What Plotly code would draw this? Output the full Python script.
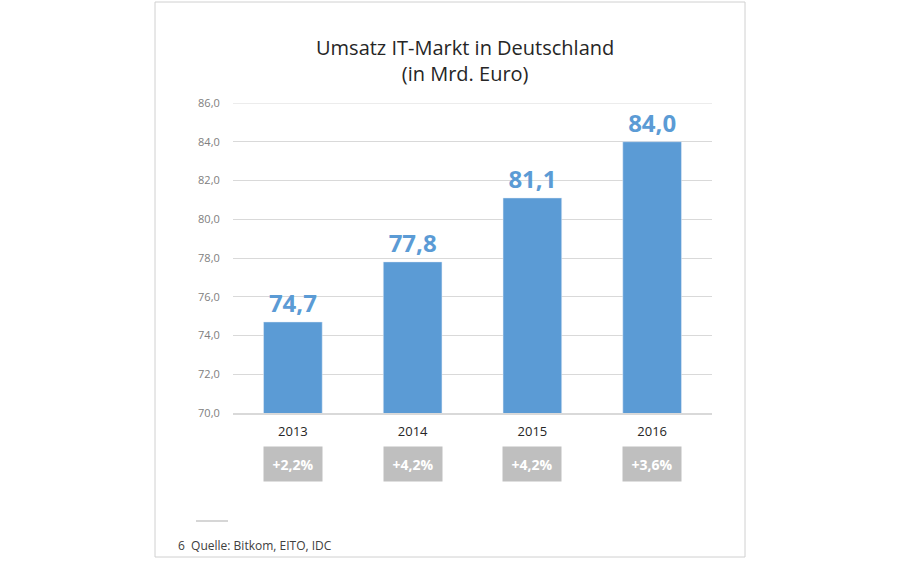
## Imports
import plotly.graph_objects as go

## Data
jahre = ["2013", "2014", "2015", "2016"]
umsatz = [74.7, 77.8, 81.1, 84.0]
wachstum = ["+2,2%", "+4,2%", "+4,2%", "+3,6%"]
wert_labels = ["74,7", "77,8", "81,1", "84,0"]
y_ticks = [70, 72, 74, 76, 78, 80, 82, 84, 86]
y_tick_labels = ["70,0", "72,0", "74,0", "76,0", "78,0", "80,0", "82,0", "84,0", "86,0"]

blau = "#5B9BD5"
grau_box = "#BFBFBF"
font_name = "Open Sans"

pos = list(range(len(jahre)))

## Chart
fig = go.Figure()
fig.add_trace(go.Bar(
    x=pos, y=umsatz,
    marker_color=blau,
    width=0.49,
    text=["<b>" + t + "</b>" for t in wert_labels],
    textposition="outside",
    textfont=dict(color=blau, size=24, family=font_name),
    cliponaxis=False,
))

# plot area: x 233..712, y 103..413 px
def px_x(p):
    return (p - 233) / 479.0

def px_y(p):
    return (413 - p) / 310.0

# Growth boxes under the years
for i, w in zip(pos, wachstum):
    fig.add_annotation(
        x=i, xref="x", y=px_y(464), yref="paper",
        text="<b>" + w + "</b>", showarrow=False,
        font=dict(color="white", size=14, family=font_name),
        bgcolor=grau_box, width=56, height=32, borderpad=1,
        xanchor="center", yanchor="middle",
    )

# Title
fig.add_annotation(
    x=px_x(465), xref="paper", y=px_y(60), yref="paper",
    text="Umsatz IT-Markt in Deutschland<br>(in Mrd. Euro)",
    showarrow=False, font=dict(size=20, color="#262626", family=font_name),
    xanchor="center", yanchor="middle",
)

# Footer
fig.add_annotation(
    x=px_x(176), xref="paper", y=px_y(545), yref="paper",
    text="6  Quelle: Bitkom, EITO, IDC", showarrow=False,
    font=dict(size=12, color="#404040", family=font_name),
    xanchor="left", yanchor="middle",
)

# top gridline (plotly skips it at the plot edge)
fig.add_shape(type="line", xref="paper", yref="y",
              x0=0, x1=1, y0=y_ticks[-1], y1=y_ticks[-1],
              line=dict(color="#D9D9D9", width=1), layer="below")

# Small separator line and outer frame
fig.add_shape(type="line", xref="paper", yref="paper",
              x0=px_x(196), x1=px_x(228), y0=px_y(521), y1=px_y(521),
              line=dict(color="#C8C8C8", width=1.5))
fig.add_shape(type="rect", xref="paper", yref="paper",
              x0=px_x(155), x1=px_x(745), y0=px_y(557), y1=px_y(2),
              line=dict(color="#D0D0D0", width=1))

fig.update_layout(
    width=900, height=562,
    margin=dict(l=233, r=188, t=103, b=149),
    paper_bgcolor="white", plot_bgcolor="white",
    showlegend=False,
    font=dict(family=font_name),
)
fig.update_yaxes(
    range=[70, 86], tickvals=y_ticks, ticktext=y_tick_labels,
    showgrid=True, gridcolor="#D9D9D9", gridwidth=1,
    zeroline=False, showline=False,
    tickfont=dict(size=11, color="#808080", family=font_name),
    ticks="outside", ticklen=10, tickcolor="white",
)
fig.update_xaxes(
    range=[-0.5, 3.5], tickvals=pos, ticktext=jahre,
    showgrid=False, zeroline=False,
    showline=True, linecolor="#D9D9D9", linewidth=1.5,
    tickfont=dict(size=13, color="#262626", family=font_name),
    ticks="outside", ticklen=6, tickcolor="white",
)

fig.write_html("out.html", post_script="document.body.style.margin='0';",
               config={"displayModeBar": False})
